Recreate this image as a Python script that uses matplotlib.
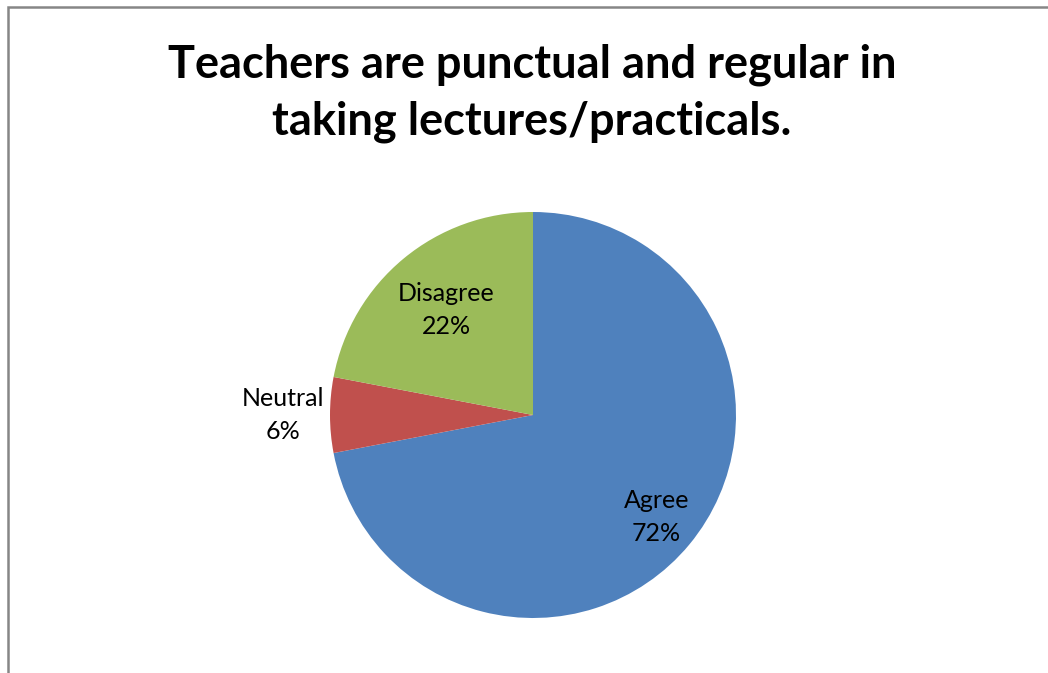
import numpy as np
import matplotlib
matplotlib.use("Agg")
import matplotlib.pyplot as plt
from matplotlib.patches import Rectangle

categories = ["Agree", "Neutral", "Disagree"]
values = [72, 6, 22]
colors = ["#4F81BD", "#C0504D", "#9BBB59"]
label_dist = [0.79, 1.23, 0.67]
title = "Teachers are punctual and regular in\ntaking lectures/practicals."

W, H = 1048, 673
fig = plt.figure(figsize=(W / 100, H / 100), dpi=100)
fig.patch.set_facecolor("white")

# border
fig.add_artist(Rectangle((8 / W, -0.1), 1.2, 1 - 7 / H + 0.1, transform=fig.transFigure,
                         fill=False, edgecolor="#868686", linewidth=1.8))

cx, cy, r = 533, 415, 203
ax = fig.add_axes([(cx - r) / W, (H - cy - r) / H, 2 * r / W, 2 * r / H])
wedges, _ = ax.pie(values, colors=colors, startangle=90, counterclock=False,
                   radius=1, wedgeprops=dict(linewidth=0))
ax.set_xlim(-1, 1)
ax.set_ylim(-1, 1)
ax.set_aspect("equal")
ax.axis("off")

for w, cat, v, d in zip(wedges, categories, values, label_dist):
    ang = np.deg2rad((w.theta1 + w.theta2) / 2)
    ax.text(d * np.cos(ang), d * np.sin(ang), f"{cat}\n{v}%", ha="center", va="center",
            fontsize=18, family=["Lato", "DejaVu Sans"], linespacing=1.55)

fig.text(532 / W, 1 - 93 / H, title, ha="center", va="center", fontsize=32.5,
         fontweight="bold", family=["Lato", "DejaVu Sans"], linespacing=1.42)

fig.savefig("out.png", dpi=100)
